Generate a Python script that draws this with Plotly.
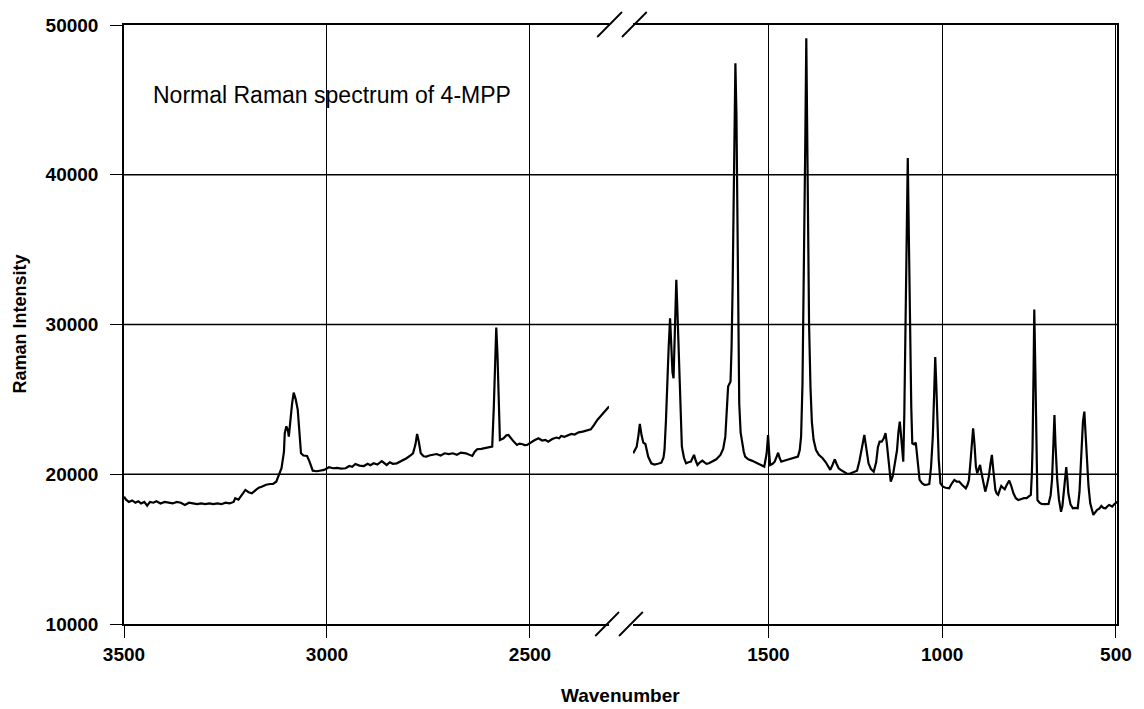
import plotly.graph_objects as go

# High-wavenumber window (cm-1, descending) and Raman intensity
hi_wavenumber = [
    3500, 3495, 3488, 3480, 3472, 3465, 3458, 3450, 3443, 3436, 3428, 3420, 3410, 3400,
    3390, 3380, 3370, 3360, 3350, 3340, 3330, 3320, 3310, 3300, 3290, 3280, 3270, 3260,
    3250, 3240, 3230, 3226, 3218, 3210, 3201, 3193, 3185, 3175, 3168, 3161, 3150, 3140,
    3133, 3125, 3120, 3112, 3106, 3104, 3100, 3096, 3094, 3090, 3086, 3082, 3077, 3072,
    3068, 3064, 3058, 3049, 3043, 3035, 3025, 3015, 3007, 2995, 2985, 2975, 2965, 2954,
    2945, 2938, 2930, 2920, 2909, 2900, 2893, 2885, 2876, 2865, 2858, 2853, 2845, 2838,
    2828, 2818, 2810, 2804, 2795, 2788, 2782, 2778, 2774, 2769, 2762, 2755, 2748, 2739,
    2730, 2720, 2710, 2700, 2690, 2680, 2670, 2658, 2650, 2642, 2636, 2630, 2620, 2610,
    2601, 2593, 2589, 2586, 2583, 2580, 2577, 2574, 2565, 2558, 2553, 2547, 2540, 2532,
    2526, 2520, 2513, 2507, 2500, 2490, 2479, 2470, 2462, 2455, 2445, 2435, 2428, 2423,
    2415, 2405, 2398, 2390, 2380, 2370, 2360, 2350, 2342, 2334, 2325, 2315, 2305,
]
hi_intensity = [
    18500, 18300, 18150, 18250, 18100, 18200, 18050, 18150, 17900, 18150, 18100, 18200, 18050, 18150,
    18100, 18050, 18150, 18100, 17950, 18100, 18050, 18000, 18050, 18000, 18050, 18000, 18050, 18000,
    18100, 18050, 18150, 18400, 18300, 18600, 18950, 18800, 18730, 18950, 19100, 19170, 19300, 19350,
    19350, 19500, 19840, 20400, 21500, 22740, 23200, 22900, 22510, 23850, 24700, 25450, 25000, 24300,
    23000, 21400, 21250, 21220, 20840, 20240, 20200, 20250, 20290, 20470, 20400, 20420, 20380, 20400,
    20550, 20500, 20690, 20580, 20550, 20700, 20600, 20730, 20650, 20870, 20700, 20620, 20800, 20700,
    20730, 20850, 20950, 21070, 21250, 21400, 22000, 22690, 22200, 21400, 21200, 21180, 21250, 21290,
    21350, 21250, 21400, 21350, 21400, 21300, 21450, 21400, 21300, 21220, 21500, 21670, 21700, 21750,
    21800, 21840, 24500, 27500, 29800, 28000, 25500, 22290, 22400, 22600, 22620, 22400, 22180, 21960,
    22050, 22020, 21950, 21960, 22100, 22250, 22400, 22250, 22300, 22180, 22350, 22450, 22400, 22560,
    22500, 22600, 22690, 22650, 22800, 22850, 22900, 23000, 23300, 23630, 23900, 24200, 24520,
]

# Fingerprint window (cm-1, descending) and Raman intensity
lo_wavenumber = [
    1889, 1885, 1879, 1874, 1870, 1865, 1860, 1854, 1846, 1837, 1828, 1818, 1808, 1802,
    1799, 1795, 1792, 1787, 1783, 1779, 1776, 1773, 1770, 1767, 1765, 1762, 1759, 1756,
    1752, 1749, 1743, 1737, 1730, 1723, 1718, 1714, 1709, 1704, 1697, 1690, 1684, 1678,
    1671, 1660, 1650, 1638, 1630, 1624, 1620, 1616, 1609, 1606, 1603, 1599, 1595, 1592,
    1590, 1587, 1584, 1580, 1576, 1571, 1567, 1558, 1548, 1538, 1529, 1520, 1512, 1505,
    1501, 1498, 1495, 1488, 1482, 1476, 1472, 1468, 1463, 1455, 1447, 1434, 1425, 1415,
    1410, 1406, 1402, 1398, 1394, 1391, 1389, 1387, 1383, 1379, 1375, 1370, 1363, 1355,
    1344, 1335, 1328, 1322, 1316, 1309, 1304, 1298, 1292, 1282, 1275, 1268, 1258, 1250,
    1245, 1238, 1234, 1228, 1224, 1220, 1216, 1212, 1205, 1197, 1190, 1185, 1180, 1174,
    1168, 1163, 1159, 1155, 1151, 1148, 1142, 1136, 1130, 1126, 1122, 1118, 1115, 1112,
    1109, 1105, 1102, 1099, 1096, 1093, 1089, 1086, 1081, 1076, 1071, 1065, 1058, 1051,
    1044, 1037, 1032, 1027, 1023, 1020, 1017, 1014, 1010, 1005, 998, 990, 980, 972,
    965, 958, 951, 943, 936, 932, 927, 923, 918, 914, 911, 907, 903, 899,
    895, 891, 888, 885, 880, 876, 871, 866, 861, 857, 853, 847, 843, 839,
    835, 830, 825, 820, 814, 807, 801, 795, 788, 781, 772, 765, 757, 750,
    745, 742, 740, 737, 735, 732, 729, 726, 720, 714, 705, 694, 688, 684,
    680, 677, 674, 669, 664, 658, 654, 650, 646, 643, 640, 637, 631, 624,
    617, 610, 605, 602, 599, 595, 591, 588, 584, 579, 574, 569, 565, 560,
    554, 548, 542, 536, 530, 525, 520, 515, 511, 505, 500, 495,
]
lo_intensity = [
    21400, 21600, 21840, 22600, 23360, 22600, 22110, 22020, 21180, 20730, 20650, 20700, 20770, 21100,
    21620, 23500, 25850, 28500, 30420, 28500, 26800, 26410, 28500, 31500, 32980, 31000, 29000, 26970,
    24000, 21840, 21100, 20730, 20800, 20840, 21100, 21290, 20900, 20620, 20800, 20910, 20800, 20700,
    20730, 20850, 21000, 21290, 21700, 22510, 24000, 25850, 26190, 28500, 32530, 40000, 47450, 44000,
    39210, 32000, 24740, 22800, 22070, 21500, 21180, 21000, 20910, 20800, 20730, 20600, 20510, 21400,
    22620, 21500, 20620, 20700, 20840, 21200, 21440, 21100, 20840, 20900, 20950, 21070, 21100, 21180,
    21600, 22510, 26000, 32530, 42000, 49120, 45000, 37000, 30000, 25850, 23500, 22300, 21620, 21300,
    21070, 20800, 20500, 20290, 20600, 21000, 20700, 20400, 20290, 20150, 20050, 20020, 20100, 20200,
    20240, 20900, 21400, 22200, 22620, 22000, 21300, 20730, 20350, 20170, 20800, 21800, 22180, 22180,
    22400, 22740, 22000, 20960, 20000, 19510, 19900, 20730, 21600, 22800, 23510, 22500, 21500, 20840,
    24000, 30310, 36000, 41110, 36000, 30310, 24500, 22070, 22000, 22110, 21000, 19620, 19400, 19290,
    19300, 19350, 20500, 22510, 25500, 27820, 26000, 23630, 21000, 19400, 19170, 19100, 19060, 19400,
    19620, 19500, 19510, 19300, 19150, 19060, 19300, 19620, 21000, 22500, 23070, 22000, 20500, 20070,
    20300, 20620, 20200, 19840, 19200, 18840, 19300, 19840, 20700, 21290, 20300, 18950, 18700, 18620,
    18900, 19220, 19100, 19000, 19300, 19570, 19200, 18730, 18400, 18280, 18350, 18400, 18400, 18500,
    18620, 20000, 21840, 27000, 31000, 27000, 21000, 18280, 18100, 18020, 18000, 18020, 18600, 19620,
    22000, 23960, 22000, 19620, 18300, 17500, 17900, 18730, 19800, 20470, 19700, 18730, 18000, 17730,
    17750, 17730, 18800, 20000, 21840, 23500, 24180, 23000, 20730, 19200, 18060, 17500, 17280, 17450,
    17620, 17700, 17880, 17750, 17730, 17850, 17950, 17900, 17840, 18000, 18100, 18170,
]

hi_ticks = [3500, 3000, 2500]
lo_ticks = [1500, 1000, 500]
y_ticks = [10000, 20000, 30000, 40000, 50000]
y_grid = [20000, 30000, 40000]

FONT = "Liberation Sans, Arial, sans-serif"
INK = "black"

# plot-area geometry in pixels (used for the axis-break marks)
W, H = 1144, 709
ML, MR, MT, MB = 124, 17, 25, 85
PW, PH = W - ML - MR, H - MT - MB


def px(xp):
    return (xp - ML) / PW


def py(yp):
    return (H - MB - yp) / PH


fig = go.Figure()
fig.add_trace(go.Scatter(x=hi_wavenumber, y=hi_intensity, mode="lines",
                         line=dict(color=INK, width=2.2), xaxis="x", yaxis="y",
                         showlegend=False))
fig.add_trace(go.Scatter(x=lo_wavenumber, y=lo_intensity, mode="lines",
                         line=dict(color=INK, width=2.2), xaxis="x2", yaxis="y2",
                         showlegend=False))

xcommon = dict(showline=True, linecolor=INK, linewidth=1.5, mirror=True,
               ticks="outside", ticklen=12, tickwidth=1.2, tickcolor=INK,
               showgrid=True, gridcolor=INK, gridwidth=1.3, zeroline=False,
               tickfont=dict(family=FONT, size=19, color=INK, weight="bold"))

fig.update_layout(
    width=W, height=H,
    margin=dict(l=ML, r=MR, t=MT, b=MB),
    paper_bgcolor="white", plot_bgcolor="white",
    xaxis=dict(domain=[0, px(614)], range=[3500, 2305], tickvals=hi_ticks,
               ticktext=[str(v) for v in hi_ticks], anchor="y", **xcommon),
    xaxis2=dict(domain=[px(638), 1], range=[1890, 497], tickvals=lo_ticks,
                ticktext=[str(v) for v in lo_ticks], anchor="y2", **xcommon),
    yaxis=dict(range=[10000, 50000], tickvals=y_ticks,
               ticktext=[str(v) for v in y_ticks], anchor="x",
               showline=True, linecolor=INK, linewidth=1.5,
               ticks="outside", ticklen=12, tickwidth=1.2, tickcolor=INK,
               showgrid=False, zeroline=False, ticklabelstandoff=8,
               tickfont=dict(family=FONT, size=19, color=INK, weight="bold")),
    yaxis2=dict(range=[10000, 50000], anchor="x2", side="right",
                showline=True, linecolor=INK, linewidth=1.5,
                showticklabels=False, ticks="", showgrid=False, zeroline=False),
)

shapes = []
# horizontal grid lines run straight through the break
for v in y_grid:
    shapes.append(dict(type="line", xref="paper", yref="y", x0=0, x1=1, y0=v, y1=v,
                       line=dict(color=INK, width=1.3), layer="below"))
# "//" break marks on the top and bottom frame lines
for (x0, y0, x1, y1) in [(602, 37, 627, 12), (627, 37, 652, 12),
                         (600, 636, 624, 612), (624, 636, 648, 612)]:
    shapes.append(dict(type="line", xref="paper", yref="paper",
                       x0=px(x0), y0=py(y0), x1=px(x1), y1=py(y1),
                       line=dict(color=INK, width=1.8)))
fig.update_layout(shapes=shapes)

fig.add_annotation(text="Normal Raman spectrum of 4-MPP", xref="paper", yref="paper",
                   x=px(151), y=py(95), xanchor="left", yanchor="middle",
                   showarrow=False, font=dict(family=FONT, size=23, color=INK))
fig.add_annotation(text="<b>Raman Intensity</b>", xref="paper", yref="paper",
                   x=px(18), y=0.5, xanchor="center", yanchor="middle", textangle=-90,
                   showarrow=False, font=dict(family=FONT, size=18, color=INK))
fig.add_annotation(text="<b>Wavenumber</b>", xref="paper", yref="paper",
                   x=0.5, y=py(695), xanchor="center", yanchor="middle",
                   showarrow=False, font=dict(family=FONT, size=19, color=INK))

fig.write_html("out.html")
